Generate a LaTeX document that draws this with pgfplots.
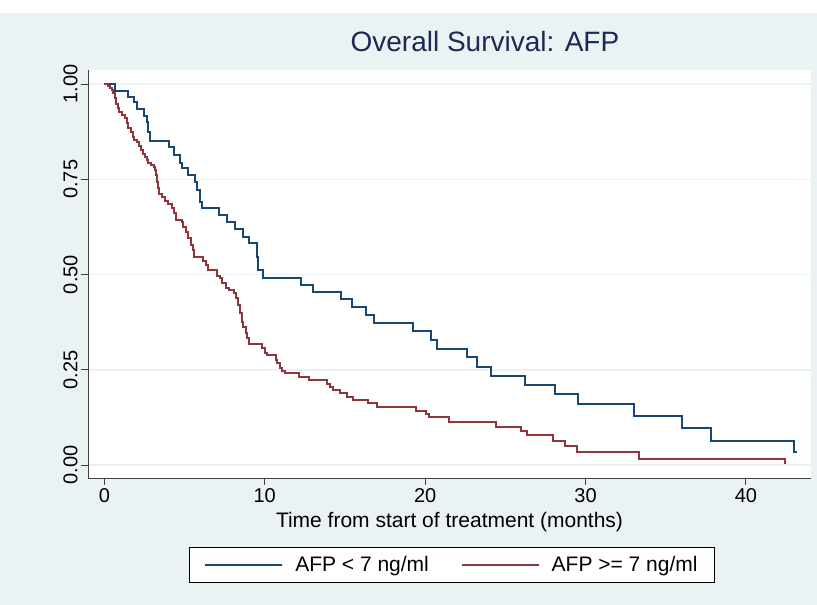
\documentclass[border=0pt]{standalone}
\usepackage{fontspec}
\setmainfont{Liberation Sans}
\usepackage{pgfplots}
\pgfplotsset{compat=1.18}
\definecolor{stbg}{RGB}{234,242,243}
\definecolor{stnavy}{RGB}{26,71,111}
\definecolor{stmaroon}{RGB}{144,53,59}
\definecolor{sttitle}{RGB}{28,42,82}

\begin{document}
\begin{tikzpicture}
\fill[white] (0bp,0bp) rectangle (817bp,605bp);
\fill[stbg] (0bp,0bp) rectangle (817bp,592bp);
\begin{axis}[
  at={(88bp,127bp)}, anchor=south west,
  scale only axis, width=723bp, height=408bp,
  xmin=-1.02, xmax=44.06, ymin=-0.034, ymax=1.037,
  axis x line*=bottom, axis y line*=left,
  axis line style={black!75, line width=1bp, -},
  axis background/.style={fill=white},
  xtick={0,10,20,30,40}, ytick={0,0.25,0.5,0.75,1},
  tick align=outside, major tick length=7bp,
  tick style={black!75, line width=0.8bp},
  ymajorgrids, major grid style={stbg, line width=1.5bp},
  /pgf/number format/assume math mode=true,
  tick label style={font=\fontsize{20bp}{24bp}\selectfont},
  yticklabel style={rotate=90, anchor=south,
    /pgf/number format/fixed, /pgf/number format/fixed zerofill,
    /pgf/number format/precision=2},
  xlabel={Time from start of treatment (months)},
  xlabel style={at={(0.5,-0.108)}, anchor=center, font=\fontsize{21bp}{25bp}\selectfont},
  title={Overall Survival: AFP},
  title style={at={(0.549,1.054)}, anchor=center, font=\fontsize{28bp}{32bp}\selectfont, text=sttitle},
  legend columns=2,
  legend style={at={(0.5035,-0.213)}, anchor=center, draw=black, line width=0.7bp,
    fill=white, font=\fontsize{21bp}{25bp}\selectfont,
    inner xsep=15bp, inner ysep=7bp,
    /tikz/every odd column/.append style={column sep=10bp},
    /tikz/every even column/.append style={column sep=30bp}},
  legend image code/.code={\draw[#1, line width=1.8bp] (0bp,0bp) -- (77bp,0bp);},
]
% AFP < 7 ng/ml
\addplot[const plot, stnavy, line width=2bp] coordinates {
(0,1.000) (0.67,0.982) (1.46,0.965) (1.87,0.952) (2.02,0.934) (2.49,0.917)
(2.64,0.901) (2.74,0.875) (2.85,0.851) (4.03,0.835) (4.36,0.814) (4.72,0.794)
(4.86,0.779) (5.24,0.761) (5.65,0.744) (5.76,0.722) (5.97,0.691) (6.07,0.674)
(7.15,0.656) (7.63,0.639) (8.15,0.619) (8.63,0.599) (9.02,0.582) (9.50,0.545)
(9.60,0.512) (9.91,0.492) (12.26,0.472) (12.99,0.453) (14.74,0.435) (15.42,0.414)
(16.30,0.394) (16.83,0.372) (19.26,0.352) (20.37,0.328) (20.72,0.304) (22.63,0.283)
(23.25,0.258) (24.11,0.234) (26.23,0.211) (28.10,0.186) (29.51,0.160) (33.04,0.129)
(36.00,0.096) (37.82,0.064) (43.02,0.033) (43.17,0.033)
};
\addlegendentry{AFP < 7 ng/ml}
% AFP >= 7 ng/ml
\addplot[const plot, stmaroon, line width=2bp] coordinates {
(0,1.000) (0.21,0.995) (0.36,0.990) (0.46,0.984) (0.56,0.976) (0.67,0.964)
(0.73,0.949) (0.84,0.936) (0.94,0.926) (1.08,0.919) (1.29,0.910) (1.43,0.897)
(1.50,0.884) (1.66,0.875) (1.77,0.862) (1.87,0.853) (2.02,0.849) (2.18,0.838)
(2.29,0.827) (2.43,0.816) (2.54,0.809) (2.64,0.801) (2.74,0.792) (2.91,0.787)
(3.08,0.783) (3.16,0.774) (3.22,0.761) (3.27,0.744) (3.33,0.726) (3.43,0.711)
(3.58,0.704) (3.78,0.693) (3.99,0.684) (4.20,0.674) (4.35,0.661) (4.47,0.643)
(4.83,0.639) (4.93,0.625) (5.09,0.612) (5.24,0.595) (5.39,0.577) (5.51,0.564)
(5.61,0.547) (6.13,0.536) (6.32,0.525) (6.48,0.512) (7.04,0.496) (7.21,0.490)
(7.32,0.477) (7.57,0.464) (7.79,0.459) (8.09,0.451) (8.21,0.438) (8.35,0.420)
(8.46,0.398) (8.57,0.376) (8.67,0.363) (8.83,0.346) (8.92,0.333) (9.04,0.319)
(9.84,0.307) (10.02,0.293) (10.12,0.289) (10.70,0.277) (10.79,0.267) (10.95,0.255)
(11.08,0.248) (11.27,0.242) (12.14,0.232) (12.76,0.223) (13.90,0.214) (14.07,0.206)
(14.28,0.197) (14.69,0.188) (15.11,0.179) (15.49,0.171) (16.46,0.164) (16.98,0.153)
(19.43,0.143) (20.06,0.134) (20.26,0.125) (21.51,0.114) (24.42,0.101) (25.96,0.090)
(26.33,0.079) (27.96,0.064) (28.72,0.051) (29.49,0.035) (33.34,0.016) (42.44,0.002)
};
\addlegendentry{AFP >= 7 ng/ml}
\end{axis}
\pgfresetboundingbox
\path (0bp,0bp) rectangle (817bp,605bp);
\end{tikzpicture}
\end{document}
